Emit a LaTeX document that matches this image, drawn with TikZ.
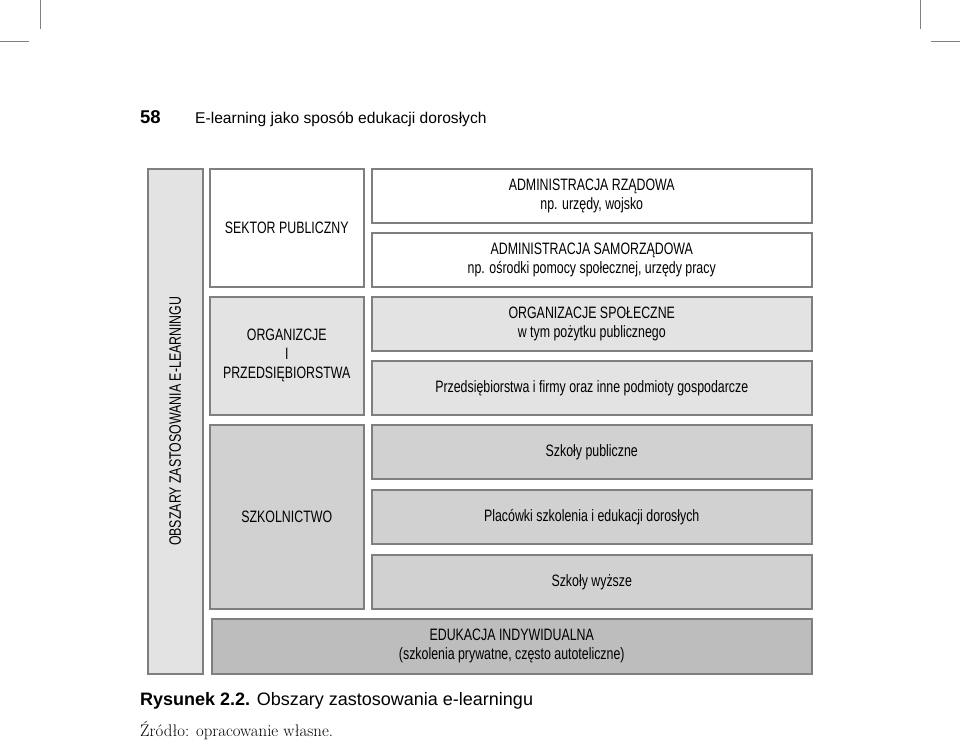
\documentclass[tikz,border=0pt]{standalone}
\usepackage{fontspec}
\newfontfamily\headfont{Liberation Sans}
\newfontfamily\condfont[FakeStretch=0.75]{Liberation Sans}

\definecolor{frame}{HTML}{7F7F7F}
\definecolor{fillA}{HTML}{E3E3E3}
\definecolor{fillB}{HTML}{D1D1D1}
\definecolor{fillC}{HTML}{BDBDBD}

\tikzset{
	area/.style={draw=frame, line width=1.5pt, inner sep=0pt, align=center, anchor=north west,
		font=\condfont\fontsize{16.5}{19}\selectfont},
	rowbox/.style={area, minimum width=440pt, minimum height=54pt},
	sidebox/.style={area, minimum width=154pt},
	cropline/.style={draw=gray, line width=0.8pt},
	plain/.style={inner sep=0pt, anchor=base west},
}

\begin{document}
\begin{tikzpicture}[x=1pt,y=-1pt]
\useasboundingbox (0,0) rectangle (960,744);

% crop marks
\coordinate (cl1) at (40,0);   \coordinate (cl2) at (40,29);
\coordinate (cl3) at (0,41);   \coordinate (cl4) at (29,41);
\coordinate (cr1) at (920,0);  \coordinate (cr2) at (920,29);
\coordinate (cr3) at (931,41); \coordinate (cr4) at (960,41);
\draw[cropline] (cl1)--(cl2);
\draw[cropline] (cl3)--(cl4);
\draw[cropline] (cr1)--(cr2);
\draw[cropline] (cr3)--(cr4);

% running head
\node[plain, font=\headfont\bfseries\fontsize{18.5}{20}\selectfont] (pagenum) at (140,123) {58};
\node[plain, font=\headfont\fontsize{15.6}{18}\selectfont] (runhead) at (195,123) {E-learning jako sposób edukacji dorosłych};

% left strip
\node[area, fill=fillA, minimum width=55pt, minimum height=505pt] (strip) at (147,168) {};
\node[rotate=90, font=\condfont\fontsize{16.5}{19}\selectfont] (striptext) at (strip.center) {OBSZARY ZASTOSOWANIA E-LEARNINGU};

% sectors
\node[sidebox, fill=white, minimum height=118pt] (sektor) at (209,168) {SEKTOR PUBLICZNY};
\node[sidebox, fill=fillA, minimum height=118pt] (org) at (209,296) {ORGANIZCJE\\I\\PRZEDSIĘBIORSTWA};
\node[sidebox, fill=fillB, minimum height=184pt] (szkol) at (209,424) {SZKOLNICTWO};

% areas
\node[rowbox, fill=white] (rzad) at (371,168) {ADMINISTRACJA RZĄDOWA\\np. urzędy, wojsko};
\node[rowbox, fill=white] (samorz) at (371,232) {ADMINISTRACJA SAMORZĄDOWA\\np. ośrodki pomocy społecznej, urzędy pracy};
\node[rowbox, fill=fillA] (spol) at (371,296) {ORGANIZACJE SPOŁECZNE\\w tym pożytku publicznego};
\node[rowbox, fill=fillA] (firmy) at (371,360) {Przedsiębiorstwa i firmy oraz inne podmioty gospodarcze};
\node[rowbox, fill=fillB] (publ) at (371,424) {Szkoły publiczne};
\node[rowbox, fill=fillB] (placowki) at (371,489) {Placówki szkolenia i edukacji dorosłych};
\node[rowbox, fill=fillB] (wyzsze) at (371,554) {Szkoły wyższe};
\node[area, fill=fillC, minimum width=600pt, minimum height=55pt] (indyw) at (211,618) {EDUKACJA INDYWIDUALNA\\(szkolenia prywatne, często autoteliczne)};

% caption
\node[plain, font=\headfont\fontsize{18}{20}\selectfont] (caption) at (140,705) {\textbf{Rysunek 2.2.} Obszary zastosowania e-learningu};
\node[plain, font=\fontsize{16.8}{18}\selectfont] (source) at (140,736) {Źródło: opracowanie własne.};
\end{tikzpicture}
\end{document}
